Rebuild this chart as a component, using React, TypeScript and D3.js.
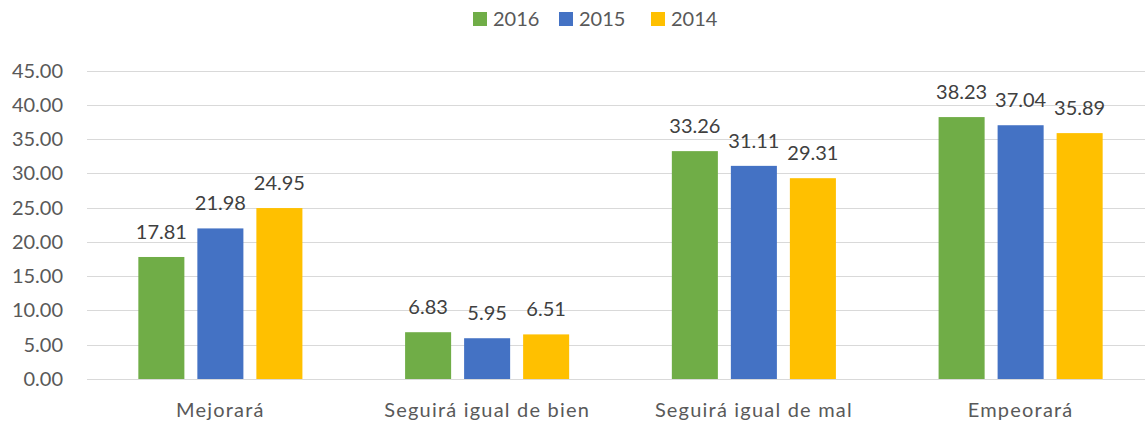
import * as d3 from "d3";
import { useEffect, useRef } from "react";

const categories = ["Mejorará", "Seguirá igual de bien", "Seguirá igual de mal", "Empeorará"];
const series = ["2016", "2015", "2014"];
const colors = ["#70AD47", "#4472C4", "#FFC000"];
const values2016 = [17.81, 6.83, 33.26, 38.23];
const values2015 = [21.98, 5.95, 31.11, 37.04];
const values2014 = [24.95, 6.51, 29.31, 35.89];
const yTicks = [0, 5, 10, 15, 20, 25, 30, 35, 40, 45];

const App = () => {
  const chartRef = useRef<SVGSVGElement | null>(null);

  useEffect(() => {
    drawChart();
  }, []);

  const drawChart = () => {
    if (!chartRef.current) return;
    d3.select(chartRef.current).selectAll("*").remove();
    const svg = d3.select(chartRef.current);
    const font = "Lato, 'Open Sans', sans-serif";

    const allValues = [values2016, values2015, values2014];
    const data = categories.flatMap((cat, ci) =>
      series.map((s, si) => ({ cat, s, si, value: allValues[si][ci] }))
    );

    const left = 87;
    const right = 1154;
    const top = 70.7;
    const bottom = 379;

    const xScale = d3.scaleBand().domain(categories).range([left, right]).padding(0);
    const xInner = d3
      .scaleBand()
      .domain(series)
      .range([0, xScale.bandwidth()])
      .paddingInner(0.22)
      .paddingOuter(0.87);
    const yScale = d3.scaleLinear().domain([0, 45]).range([bottom, top]);

    // grid
    svg
      .append("g")
      .selectAll("line")
      .data(yTicks)
      .join("line")
      .attr("x1", left)
      .attr("x2", right)
      .attr("y1", (d) => Math.round(yScale(d)) + 0.5)
      .attr("y2", (d) => Math.round(yScale(d)) + 0.5)
      .attr("stroke", "#d9d9d9")
      .attr("stroke-width", 1);

    // y labels
    svg
      .append("g")
      .selectAll("text")
      .data(yTicks)
      .join("text")
      .attr("x", 63)
      .attr("y", (d) => yScale(d))
      .attr("dy", "0.35em")
      .attr("text-anchor", "end")
      .style("font-family", font)
      .style("font-size", "20px")
      .style("fill", "#595959")
      .text((d) => d.toFixed(2));

    // bars
    svg
      .append("g")
      .selectAll("rect")
      .data(data)
      .join("rect")
      .attr("x", (d) => xScale(d.cat)! + xInner(d.s)!)
      .attr("y", (d) => yScale(d.value))
      .attr("width", xInner.bandwidth())
      .attr("height", (d) => yScale(0) - yScale(d.value))
      .attr("fill", (d) => colors[d.si]);

    // data labels
    svg
      .append("g")
      .selectAll("text")
      .data(data)
      .join("text")
      .attr("x", (d) => xScale(d.cat)! + xInner(d.s)! + xInner.bandwidth() / 2)
      .attr("y", (d) => yScale(d.value) - 18)
      .attr("text-anchor", "middle")
      .style("font-family", font)
      .style("font-size", "20px")
      .style("fill", "#404040")
      .text((d) => d.value.toFixed(2));

    // x labels
    svg
      .append("g")
      .selectAll("text")
      .data(categories)
      .join("text")
      .attr("x", (d) => xScale(d)! + xScale.bandwidth() / 2)
      .attr("y", 417)
      .attr("text-anchor", "middle")
      .style("font-family", font)
      .style("font-size", "20px")
      .style("letter-spacing", "1.2px")
      .style("fill", "#595959")
      .text((d) => d);

    // legend
    const legendX = [473, 559, 651];
    const legend = svg
      .append("g")
      .selectAll("g")
      .data(series)
      .join("g")
      .attr("transform", (d, i) => `translate(${legendX[i]},12)`);
    legend
      .append("rect")
      .attr("width", 14)
      .attr("height", 14)
      .attr("fill", (d, i) => colors[i]);
    legend
      .append("text")
      .attr("x", 20)
      .attr("y", 7)
      .attr("dy", "0.35em")
      .style("font-family", font)
      .style("font-size", "20px")
      .style("fill", "#595959")
      .text((d) => d);
  };

  return (
    <div style={{ position: "absolute", left: 0, top: 0, width: 1145, height: 423, background: "#fff" }}>
      <svg ref={chartRef} width={1145} height={423} />
    </div>
  );
};

export default App;
